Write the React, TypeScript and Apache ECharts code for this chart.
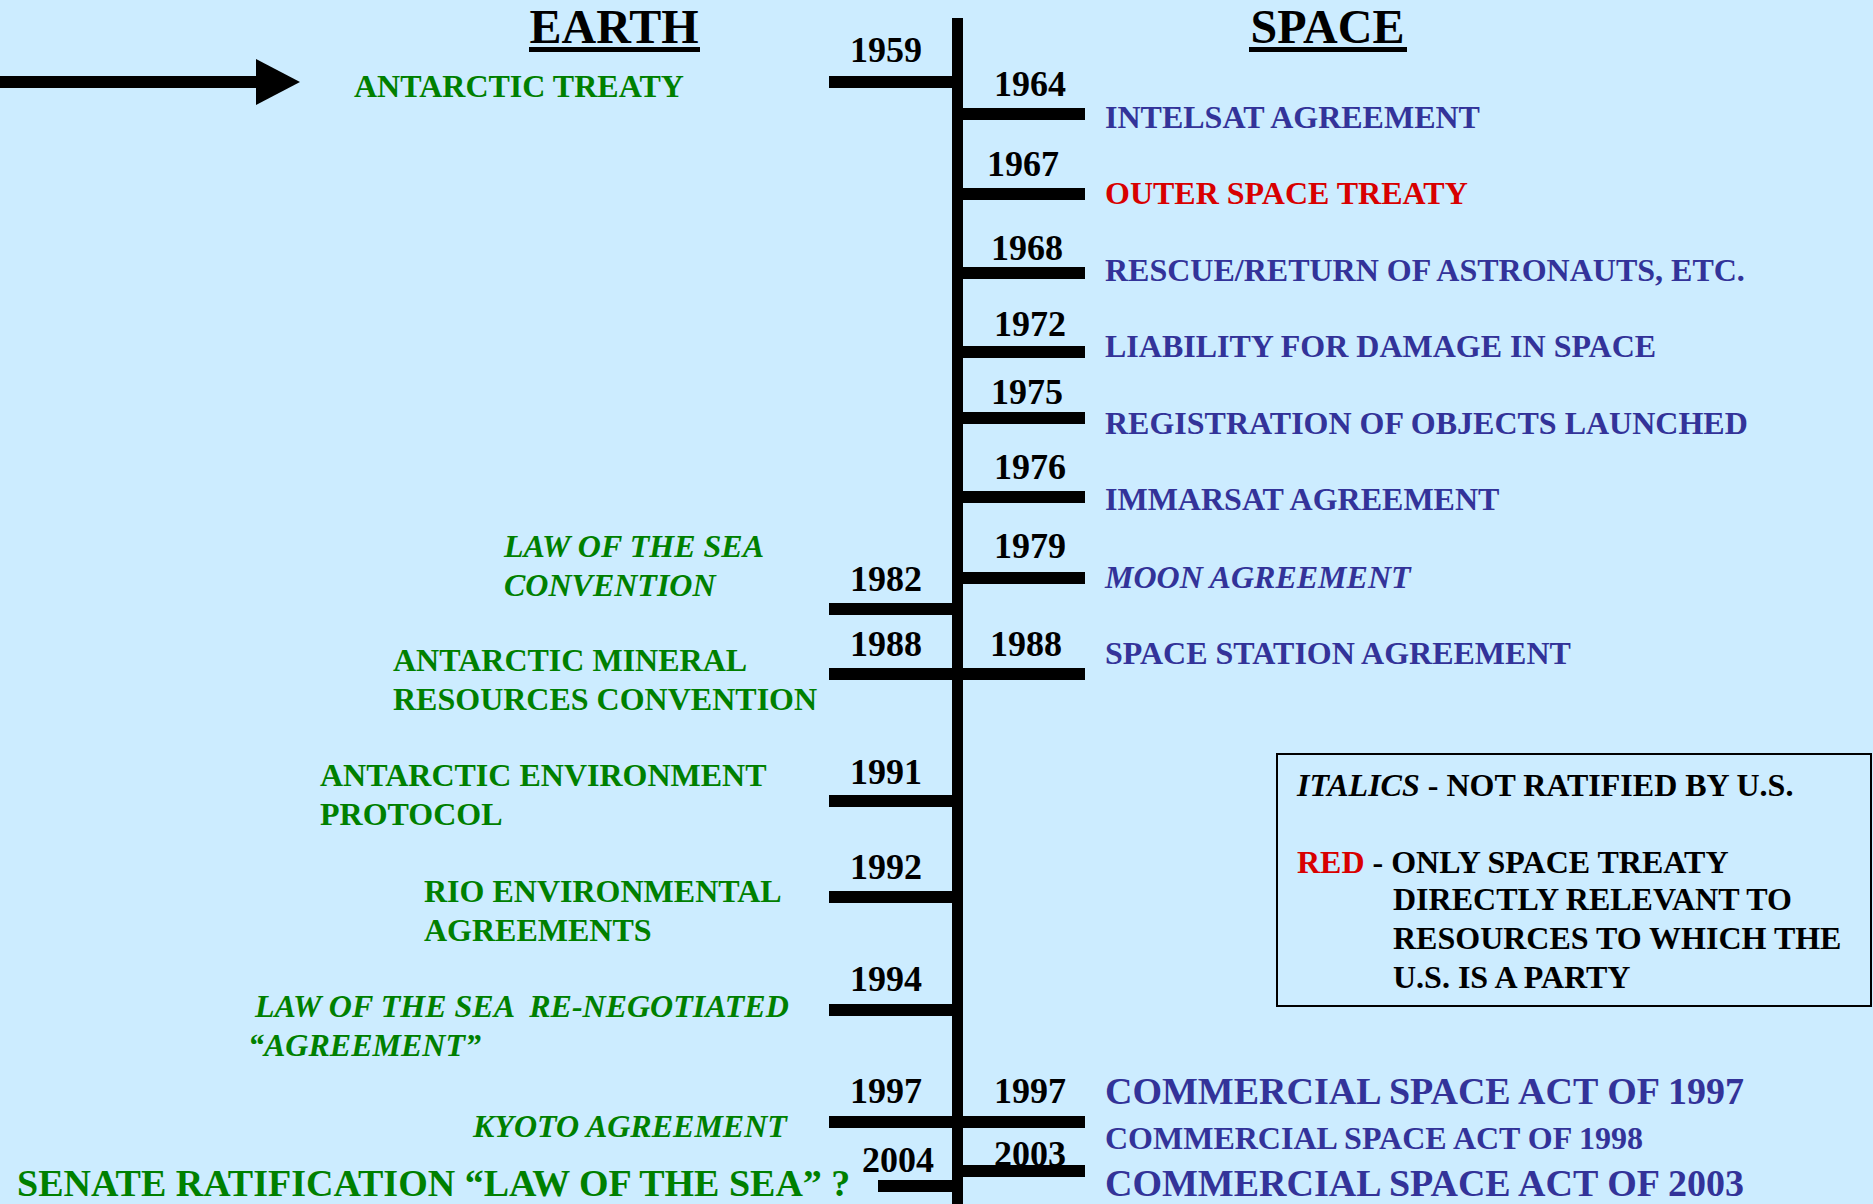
import React, { useEffect, useRef } from 'react';
import * as echarts from 'echarts';

const W = 1873;
const H = 1204;
const SERIF = '"Liberation Serif", "Times New Roman", Times, serif';
const BG = '#CCECFF';
const GREEN = '#008000';
const BLUE = '#333399';
const RED = '#D80000';
const BLACK = '#000000';

// ---------- EARTH side (left of the timeline) ----------
const earthYears = ['1959', '1982', '1988', '1991', '1992', '1994', '1997', '2004'];
const earthLabels = [
  ['ANTARCTIC TREATY'],
  ['LAW OF THE SEA', 'CONVENTION'],
  ['ANTARCTIC MINERAL', 'RESOURCES CONVENTION'],
  ['ANTARCTIC ENVIRONMENT', 'PROTOCOL'],
  ['RIO ENVIRONMENTAL', 'AGREEMENTS'],
  ['LAW OF THE SEA  RE-NEGOTIATED', '\u201CAGREEMENT\u201D'],
  ['KYOTO AGREEMENT'],
  ['SENATE RATIFICATION \u201CLAW OF THE SEA\u201D ?'],
];
const earthNotRatified = [false, true, false, false, false, true, true, false];
// position along the timeline
const earthTickPos = [82, 609, 674, 801, 897, 1010, 1122, 1186];
const earthYearPos = [50, 579, 644, 772, 867, 979, 1091, 1160];
const earthLabelPos = [86, 546, 660, 775, 891, 1006, 1126, 1183];

// ---------- SPACE side (right of the timeline) ----------
const spaceYears = ['1964', '1967', '1968', '1972', '1975', '1976', '1979', '1988', '1997', '', '2003'];
const spaceLabels = [
  'INTELSAT AGREEMENT',
  'OUTER SPACE TREATY',
  'RESCUE/RETURN OF ASTRONAUTS, ETC.',
  'LIABILITY FOR DAMAGE IN SPACE',
  'REGISTRATION OF OBJECTS LAUNCHED',
  'IMMARSAT AGREEMENT',
  'MOON AGREEMENT',
  'SPACE STATION AGREEMENT',
  'COMMERCIAL SPACE ACT OF 1997',
  'COMMERCIAL SPACE ACT OF 1998',
  'COMMERCIAL SPACE ACT OF 2003',
];
const spaceNotRatified = [false, false, false, false, false, false, true, false, false, false, false];
const spaceResourceTreaty = [false, true, false, false, false, false, false, false, false, false, false];
const spaceTickPos = [114, 194, 273, 352, 418, 497, 578, 674, 1122, NaN, 1171];
const spaceYearPos = [84, 164, 248, 324, 392, 467, 546, 644, 1091, NaN, 1154];
const spaceLabelPos = [117, 193, 270, 346, 423, 499, 577, 653, 1091, 1138, 1183];

// ---------- legend ----------
const legendLines = [
  '{i|ITALICS}{n| - NOT RATIFIED BY U.S.}',
  '{r|RED}{n| - ONLY SPACE TREATY}',
  '{n|DIRECTLY RELEVANT TO}',
  '{n|RESOURCES TO WHICH THE}',
  '{n|U.S. IS A PARTY}',
];

// ---------- layout (styling, not data) ----------
const SPINE_X = 957.5;
const SPINE_W = 11;
const TICK_H = 12;
const LEFT_TICK_START = [829, 829, 829, 829, 829, 829, 829, 878];
const RIGHT_TICK_END = 1085;
const LEFT_YEAR_X = [886, 886, 886, 886, 886, 886, 886, 898];
const RIGHT_YEAR_X = [1030, 1023, 1027, 1030, 1027, 1030, 1030, 1026, 1030, 1030, 1030];
const LEFT_LABEL_X = [354, 504, 393, 320, 424, 255, 473, 17];
const LEFT_LABEL_SIZE = [32, 32, 32, 32, 32, 32, 32, 38];
const RIGHT_LABEL_X = 1105;
const RIGHT_LABEL_SIZE = [32, 32, 32, 32, 32, 32, 32, 32, 38, 32, 38];
const LINE_GAP = 39;
const LEGEND_X = 1297;
const LEGEND_INDENT_X = 1393;
const LEGEND_Y = [785, 862, 899, 938, 977];

function font(size: number, italic = false) {
  return `${italic ? 'italic ' : ''}bold ${size}px ${SERIF}`;
}

function textEl(x: number, y: number, text: string, size: number, fill: string, align: string, italic = false) {
  return {
    type: 'text',
    x,
    y,
    style: {
      text,
      font: font(size, italic),
      fill,
      align,
      verticalAlign: 'middle',
      textAlign: align,
      textVerticalAlign: 'middle',
    },
  };
}

export default function App() {
  const ref = useRef<HTMLDivElement>(null);

  useEffect(() => {
    document.body.style.margin = '0';
    document.body.style.background = BG;
    const chart = echarts.init(ref.current as HTMLDivElement, undefined, {
      renderer: 'svg',
      width: W,
      height: H,
    });

    const earthRender = (_params: any, api: any) => {
      const i = api.value(1) as number;
      const children: any[] = [];
      const yr = api.coord([LEFT_YEAR_X[i], earthYearPos[i]]);
      children.push(textEl(yr[0], yr[1], earthYears[i], 36, BLACK, 'center'));
      earthLabels[i].forEach((line, k) => {
        const p = api.coord([LEFT_LABEL_X[i] - (k > 0 && i === 5 ? 7 : 0), earthLabelPos[i] + k * LINE_GAP]);
        children.push(textEl(p[0], p[1], line, LEFT_LABEL_SIZE[i], GREEN, 'left', earthNotRatified[i]));
      });
      const a = api.coord([LEFT_TICK_START[i], earthTickPos[i]]);
      const b = api.coord([SPINE_X, earthTickPos[i]]);
      children.push({
        type: 'rect',
        shape: { x: a[0], y: a[1] - TICK_H / 2, width: b[0] - a[0], height: TICK_H },
        style: { fill: BLACK },
      });
      return { type: 'group', children };
    };

    const spaceRender = (_params: any, api: any) => {
      const i = api.value(1) as number;
      const children: any[] = [];
      if (spaceYears[i]) {
        const yr = api.coord([RIGHT_YEAR_X[i], spaceYearPos[i]]);
        children.push(textEl(yr[0], yr[1], spaceYears[i], 36, BLACK, 'center'));
      }
      const p = api.coord([RIGHT_LABEL_X, spaceLabelPos[i]]);
      children.push(
        textEl(
          p[0],
          p[1],
          spaceLabels[i],
          RIGHT_LABEL_SIZE[i],
          spaceResourceTreaty[i] ? RED : BLUE,
          'left',
          spaceNotRatified[i]
        )
      );
      if (!isNaN(spaceTickPos[i])) {
        const a = api.coord([SPINE_X, spaceTickPos[i]]);
        const b = api.coord([RIGHT_TICK_END, spaceTickPos[i]]);
        children.push({
          type: 'rect',
          shape: { x: a[0], y: a[1] - TICK_H / 2, width: b[0] - a[0], height: TICK_H },
          style: { fill: BLACK },
        });
      }
      return { type: 'group', children };
    };

    const legendTexts = legendLines.map((t, k) => ({
      type: 'text',
      x: k < 2 ? LEGEND_X : LEGEND_INDENT_X,
      y: LEGEND_Y[k],
      style: {
        text: t,
        verticalAlign: 'middle',
        textVerticalAlign: 'middle',
        align: 'left',
        textAlign: 'left',
        rich: {
          i: { fontFamily: SERIF, fontSize: 32, fontWeight: 'bold', fontStyle: 'italic', fill: BLACK },
          r: { fontFamily: SERIF, fontSize: 32, fontWeight: 'bold', fill: RED },
          n: { fontFamily: SERIF, fontSize: 32, fontWeight: 'bold', fill: BLACK },
        },
      },
    }));

    const option: any = {
      animation: false,
      backgroundColor: BG,
      grid: { left: 0, right: 0, top: 0, bottom: 0, containLabel: false },
      xAxis: { type: 'value', min: 0, max: W, show: false },
      yAxis: { type: 'value', min: 0, max: H, inverse: true, show: false },
      graphic: {
        elements: [
          // timeline spine
          { type: 'rect', shape: { x: SPINE_X - SPINE_W / 2, y: 18, width: SPINE_W, height: H - 18 }, style: { fill: BLACK } },
          // arrow
          { type: 'rect', shape: { x: 0, y: 76, width: 257, height: 12 }, style: { fill: BLACK } },
          { type: 'polygon', shape: { points: [[256, 59], [300, 82], [256, 105]] }, style: { fill: BLACK } },
          // titles
          textEl(614, 26, 'EARTH', 48, BLACK, 'center'),
          { type: 'rect', shape: { x: 529, y: 47, width: 171, height: 5 }, style: { fill: BLACK } },
          textEl(1327.5, 26, 'SPACE', 48, BLACK, 'center'),
          { type: 'rect', shape: { x: 1249, y: 47, width: 158, height: 5 }, style: { fill: BLACK } },
          // legend box
          {
            type: 'rect',
            shape: { x: 1277, y: 754, width: 594, height: 252 },
            style: { fill: 'none', stroke: BLACK, lineWidth: 2 },
          },
          ...legendTexts,
        ],
      },
      series: [
        {
          type: 'custom',
          name: 'EARTH',
          renderItem: earthRender,
          data: earthTickPos.map((v, i) => [v, i]),
          encode: { y: 0 },
          silent: true,
          clip: false,
        },
        {
          type: 'custom',
          name: 'SPACE',
          renderItem: spaceRender,
          data: spaceLabelPos.map((v, i) => [v, i]),
          encode: { y: 0 },
          silent: true,
          clip: false,
        },
      ],
    };

    chart.setOption(option);
    return () => chart.dispose();
  }, []);

  return <div ref={ref} style={{ width: W, height: H }} />;
}
